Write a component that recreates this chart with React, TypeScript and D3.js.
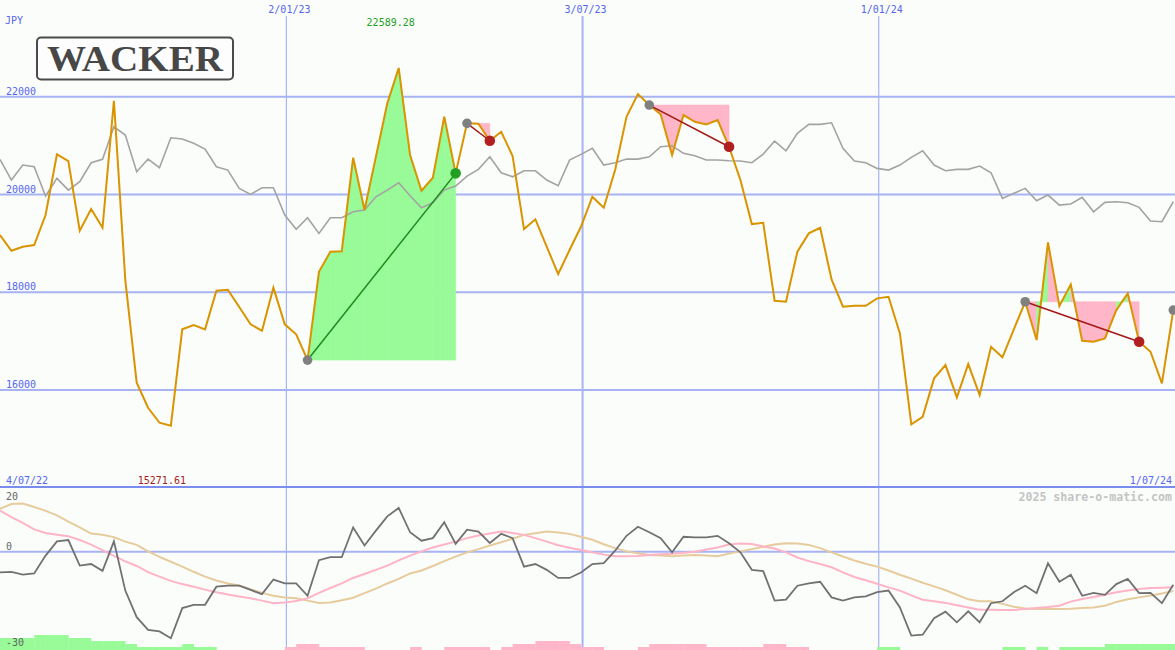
import React from 'react';
import * as d3 from 'd3';

// weekly closes (JPY)
const prices: number[] = [
  19171, 18850, 18931, 18966, 19580, 20822, 20685, 19259, 19703, 19320,
  21918, 18250, 16149, 15638, 15331, 15271.61, 17242, 17329, 17242, 18031,
  18052, 17698, 17344, 17213, 18093, 17344, 17139, 16613, 18420, 18829,
  18840, 20752, 19682, 20773, 21865, 22589.28, 20807, 20077, 20343, 21591,
  20433, 21456, 21450, 21100, 21284, 20787, 19293, 19492, 18931, 18373,
  18864, 19340, 19954, 19729, 20500, 21591, 22055, 21830, 21640, 20807,
  21626, 21489, 21435, 21523, 20977, 20296, 19396, 19422, 17827, 17806,
  18829, 19205, 19320, 18264, 17704, 17724, 17724, 17876, 17908, 17160,
  15300, 15453, 16239, 16511, 15850, 16532, 15897, 16885, 16669, 17242,
  17806, 17023, 19021, 17718, 18162, 17008, 16988, 17057, 17636, 17978,
  16988, 16783, 16137, 17636,
];

// comparison index (rebased)
const benchmark: number[] = [
  20719, 20296, 20603, 20568, 19969, 20331, 20091, 20261, 20650, 20719,
  21386, 21216, 20466, 20725, 20548, 21161, 21135, 21047, 20930, 20568,
  20500, 20126, 20003, 20138, 20138, 19580, 19287, 19525, 19205, 19525,
  19525, 19647, 19682, 19954, 20091, 20241, 19975, 19729, 19831, 20091,
  20173, 20378, 20515, 20773, 20445, 20363, 20486, 20486, 20296, 20179,
  20705, 20822, 20944, 20603, 20650, 20725, 20725, 20773, 20977, 20998,
  20842, 20793, 20705, 20705, 20691, 20685, 20650, 20828, 21094, 20895,
  21251, 21435, 21435, 21468, 20944, 20685, 20650, 20535, 20500, 20603,
  20760, 20895, 20603, 20486, 20515, 20515, 20582, 20445, 19921, 20024,
  20126, 19872, 19989, 19784, 19805, 19942, 19647, 19840, 19852, 19831,
  19737, 19457, 19443, 19852,
];

// lower panel oscillator
const oscillator: number[] = [
  -6.4, -6.2, -7.1, -6.7, -1.2, 3.2, 3.6, -4.3, -3.8, -5.9,
  3.2, -12.0, -20.2, -24.1, -24.6, -26.7, -17.4, -16.4, -16.4, -10.8,
  -10.5, -10.5, -11.8, -13.1, -8.6, -9.8, -9.8, -13.6, -2.6, -1.7,
  -1.7, 7.5, 1.9, 6.5, 10.9, 13.5, 6.0, 3.4, 4.2, 9.1,
  2.4, 6.8, 6.2, 2.7, 5.5, 4.2, -4.6, -3.8, -5.6, -8.1,
  -8.1, -6.4, -3.8, -3.5, 0.3, 4.9, 7.7, 6.0, 4.2, -0.2,
  4.6, 4.4, 4.4, 4.9, 2.6, -0.2, -5.6, -6.0, -15.1, -14.8,
  -10.5, -9.8, -9.3, -14.1, -15.1, -14.1, -13.8, -12.5, -12.0, -17.2,
  -25.9, -25.6, -20.5, -18.5, -21.8, -18.4, -21.8, -15.9, -15.3, -12.5,
  -10.5, -12.8, -3.6, -9.3, -7.1, -13.6, -12.7, -13.3, -10.0, -8.4,
  -12.8, -12.7, -15.9, -10.2,
];

const signalFast: number[] = [
  12.7, 10.7, 8.9, 6.9, 5.8, 5.2, 4.8, 3.6, 2.2, 0.5,
  -1.3, -3.0, -4.4, -6.3, -7.7, -9.0, -10.0, -10.8, -11.7, -12.5,
  -13.2, -13.8, -14.4, -15.1, -15.9, -15.7, -15.2, -14.4, -12.7, -11.2,
  -9.8, -8.1, -6.9, -5.6, -4.3, -2.7, -1.2, 0.1, 1.3, 2.2,
  3.1, 4.2, 5.0, 5.6, 6.2, 5.8, 5.2, 4.2, 3.1, 2.0,
  1.2, 0.5, -0.2, -0.9, -1.4, -1.4, -1.3, -1.0, -0.8, -0.6,
  -0.3, 0.0, 0.7, 1.3, 2.2, 2.5, 2.4, 1.6, 1.0, -0.2,
  -1.8, -2.9, -3.8, -4.8, -6.4, -7.8, -8.8, -9.9, -11.0, -12.0,
  -13.5, -14.8, -15.3, -15.8, -16.5, -17.2, -17.9, -17.9, -18.0, -18.0,
  -17.7, -17.4, -17.1, -16.7, -15.4, -14.6, -14.0, -13.3, -12.5, -12.0,
  -11.5, -11.2, -11.1, -11.0,
];

const signalSlow: number[] = [
  13.2, 14.7, 14.9, 13.8, 12.6, 11.2, 9.3, 7.5, 5.6, 5.2,
  4.5, 3.1, 2.1, 0.1, -1.6, -3.1, -4.6, -6.2, -7.7, -8.9,
  -9.8, -10.4, -11.6, -12.7, -13.6, -14.1, -14.4, -15.1, -15.8, -15.7,
  -15.0, -14.2, -12.8, -11.4, -9.8, -8.4, -6.7, -5.8, -4.4, -2.9,
  -1.5, -0.2, 0.8, 1.9, 2.9, 4.0, 5.2, 5.7, 6.2, 5.9,
  5.5, 4.6, 3.7, 2.3, 1.1, 0.1, -0.5, -1.0, -1.2, -1.4,
  -1.2, -1.0, -1.2, -1.4, -0.6, 0.1, 0.8, 1.5, 2.2, 2.6,
  2.5, 2.1, 1.1, -0.2, -1.5, -2.7, -3.7, -4.6, -5.8, -7.1,
  -8.3, -9.6, -10.7, -11.9, -13.3, -14.7, -15.3, -15.3, -16.1, -17.0,
  -17.5, -17.7, -17.7, -17.7, -17.6, -17.4, -17.2, -16.7, -15.5, -14.7,
  -14.1, -13.5, -12.9, -12.1,
];

// signal strength bars (+ green / - pink)
const strength: number[] = [
  4, 4, 4, 5, 5, 5, 4, 4, 3, 3,
  3, 2, 1, 1, 1, 1, 2, 1, 1, 0,
  0, 0, 0, 0, 0, -1, -2, -2, -1, -1,
  -1, -1, 0, 0, 0, 0, -1, 0, 0, -1,
  -1, -1, -1, 0, -1, -2, -2, -3, -3, -3,
  -2, -1, -1, 0, 0, 0, -1, -2, -2, -2,
  -2, -2, -1, -1, -1, -1, -1, -2, -2, -1,
  -1, 0, 0, 0, 0, 0, 0, 1, 1, 0,
  0, 0, 0, 0, 0, 0, 0, 0, 1, 1,
  0, 1, 0, 1, 1, 1, 1, 2, 2, 2,
  2, 2, 2, 2,
];

// trades: week index of entry and exit
const tradeEntries: number[] = [27, 41, 57, 90];
const tradeExits: number[] = [40, 43, 64, 100];
const openEntries: number[] = [103];

const priceTicks: number[] = [16000, 18000, 20000, 22000];
const dateMarks: string[] = ['2023-01-02', '2023-07-03', '2024-01-01'];
const dateLabels: string[] = ['2/01/23', '3/07/23', '1/01/24'];

const FIRST_WEEK = Date.UTC(2022, 6, 10);
const dates: Date[] = prices.map((_, i) => new Date(FIRST_WEEK + i * 7 * 864e5));

const MONO = '"DejaVu Sans Mono", "Liberation Mono", monospace';
const BLUE_TXT = '#5566ee';
const GRID = '#a7b3f2';
const GREEN_FILL = '#98fb98';
const PINK_FILL = '#ffb6c8';

export default function App() {
  const x = d3.scaleUtc().domain([dates[0], dates[dates.length - 1]]).range([0, 1173.3]);
  const yT = d3.scaleLinear().domain([14000, 24000]).range([487.8, -1]);
  const yB = d3.scaleLinear().domain([-30, 20]).range([648.9, 486.9]);
  const yH = d3.scaleLinear().domain([0, 5]).range([650, 635]);
  const xi = (i: number) => x(dates[i]);
  const step = xi(1) - xi(0);

  const lineOf = (arr: number[], y: d3.ScaleLinear<number, number>) =>
    d3.line<number>().x((_, i) => xi(i)).y((v) => y(v))(arr) as string;

  const maxI = d3.maxIndex(prices);
  const minI = d3.minIndex(prices);
  const fmt = d3.format('.2f');

  const segments: { d: string; fill: string }[] = [];
  tradeEntries.forEach((e, k) => {
    const level = prices[e];
    for (let j = e; j < tradeExits[k]; j++) {
      const area = d3
        .area<number>()
        .x((i) => xi(i))
        .y0(yT(level))
        .y1((i) => yT(prices[i]));
      segments.push({ d: area([j, j + 1]) as string, fill: prices[j + 1] >= level ? GREEN_FILL : PINK_FILL });
    }
  });

  return (
    <svg width={1175} height={650} style={{ position: 'absolute', left: 0, top: 0, display: 'block' }}>
      <rect x={0} y={0} width={1175} height={650} fill="#fbfdfb" />

      {/* horizontal price grid */}
      {priceTicks.map((t) => (
        <g key={t}>
          <line x1={0} x2={1175} y1={yT(t)} y2={yT(t)} stroke={GRID} strokeWidth={2} />
          <text x={6} y={yT(t) - 2} fontFamily={MONO} fontSize={10} fill={BLUE_TXT}>{t}</text>
        </g>
      ))}
      {/* lower panel zero line */}
      <line x1={0} x2={1175} y1={yB(0)} y2={yB(0)} stroke={GRID} strokeWidth={2} />

      {/* date lines */}
      {dateMarks.map((d, k) => {
        const dt = new Date(d + 'T00:00:00Z');
        const px = x(dt);
        const thick = dt.getUTCMonth() === 6;
        return (
          <g key={d}>
            <line x1={px} x2={px} y1={16} y2={650} stroke={GRID} strokeWidth={thick ? 2 : 1.2} />
            <text x={px + 3} y={13} textAnchor="middle" fontFamily={MONO} fontSize={10} fill={BLUE_TXT}>{dateLabels[k]}</text>
          </g>
        );
      })}

      {/* panel separator */}
      <line x1={0} x2={1175} y1={yB(20)} y2={yB(20)} stroke="#7b8cf0" strokeWidth={2} />

      {/* trade fills */}
      {segments.map((s, i) => (
        <path key={i} d={s.d} fill={s.fill} stroke={s.fill} strokeWidth={0.6} />
      ))}

      {/* benchmark */}
      <path d={lineOf(benchmark, yT)} fill="none" stroke="#a3a3a3" strokeWidth={1.6} />
      {/* price */}
      <path d={lineOf(prices, yT)} fill="none" stroke="#d99400" strokeWidth={2} strokeLinejoin="miter" />

      {/* trade connectors & markers */}
      {tradeEntries.map((e, k) => {
        const xo = tradeExits[k];
        const win = prices[xo] >= prices[e];
        return (
          <g key={k}>
            <line x1={xi(e)} y1={yT(prices[e])} x2={xi(xo)} y2={yT(prices[xo])} stroke={win ? '#1c8c1c' : '#a41818'} strokeWidth={1.5} />
            <circle cx={xi(e)} cy={yT(prices[e])} r={4.8} fill="#808080" />
            <circle cx={xi(xo)} cy={yT(prices[xo])} r={5.3} fill={win ? '#23a023' : '#b02020'} />
          </g>
        );
      })}
      {openEntries.map((e) => (
        <circle key={e} cx={xi(e)} cy={yT(prices[e])} r={4.8} fill="#808080" />
      ))}

      {/* lower panel */}
      {strength.map((v, i) =>
        v === 0 ? null : (
          <rect key={i} x={xi(i)} y={yH(Math.abs(v))} width={step + 0.3} height={yH(0) - yH(Math.abs(v))} fill={v > 0 ? GREEN_FILL : PINK_FILL} />
        )
      )}
      <path d={lineOf(signalSlow, yB)} fill="none" stroke="#e6cb9c" strokeWidth={2} />
      <path d={lineOf(signalFast, yB)} fill="none" stroke="#ffb3c6" strokeWidth={2} />
      <path d={lineOf(oscillator, yB)} fill="none" stroke="#717171" strokeWidth={1.8} />

      <text x={6} y={yB(20) + 13} fontFamily={MONO} fontSize={10} fill="#666">20</text>
      <text x={6} y={yB(0) - 2} fontFamily={MONO} fontSize={10} fill="#666">0</text>
      <text x={6} y={yB(-30) - 3} fontFamily={MONO} fontSize={10} fill="#666">-30</text>

      {/* labels */}
      <text x={5} y={24} fontFamily={MONO} fontSize={10} fill={BLUE_TXT}>JPY</text>
      <text x={xi(maxI) - 8} y={25.5} textAnchor="middle" fontFamily={MONO} fontSize={10} fill="#22a022">{fmt(prices[maxI])}</text>
      <text x={xi(minI) - 9} y={483.5} textAnchor="middle" fontFamily={MONO} fontSize={10} fill="#a81c1c">{fmt(prices[minI])}</text>
      <text x={6} y={483.5} fontFamily={MONO} fontSize={10} fill={BLUE_TXT}>4/07/22</text>
      <text x={1172} y={483.5} textAnchor="end" fontFamily={MONO} fontSize={10} fill={BLUE_TXT}>1/07/24</text>
      <text x={1172} y={500.5} textAnchor="end" fontFamily={MONO} fontSize={11.6} fontWeight="bold" fill="#c4c4c4">2025 share-o-matic.com</text>

      {/* logo */}
      <rect x={37} y={37.5} width={196} height={42} rx={4} fill="#fdfdfd" stroke="#4a4a4a" strokeWidth={2} />
      <text x={135} y={70.7} textAnchor="middle" fontFamily='"Liberation Serif", "DejaVu Serif", serif' fontWeight="bold" fontSize={36} fill="#474747" textLength={176} lengthAdjust="spacingAndGlyphs">WACKER</text>
    </svg>
  );
}
